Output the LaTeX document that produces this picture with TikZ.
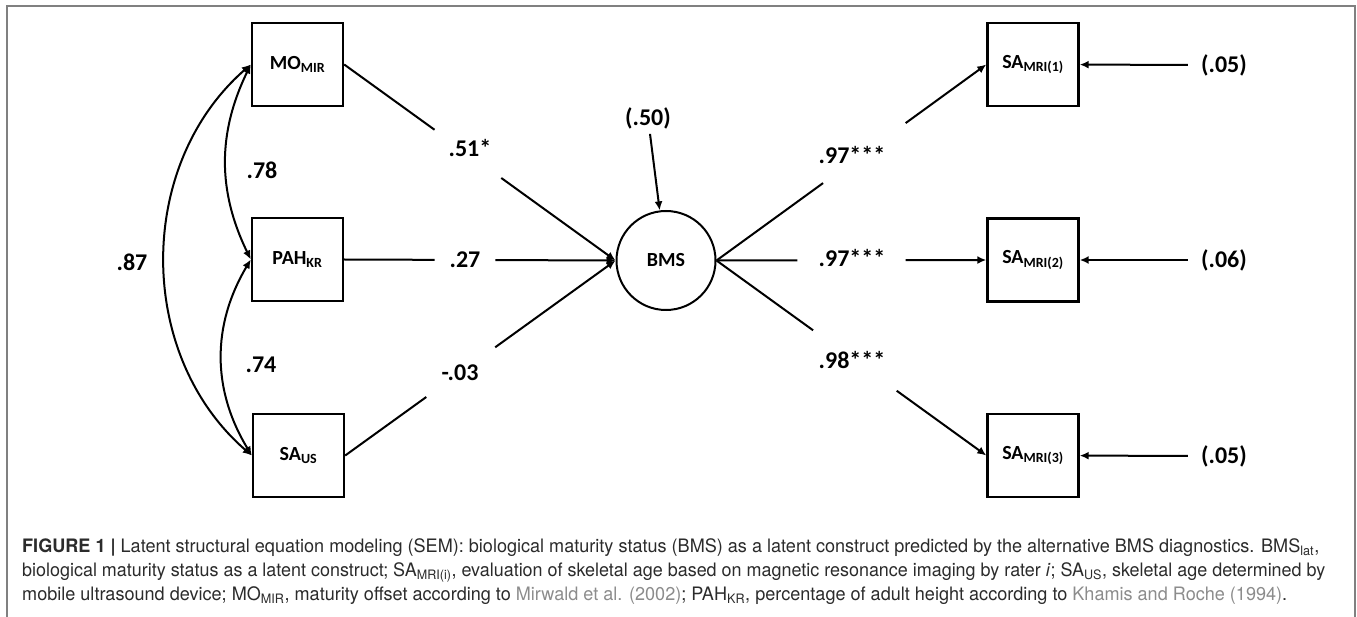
\documentclass[tikz,border=0pt]{standalone}
\usepackage{fontspec}
\setmainfont{Carlito}
\newfontfamily\capfont{TeX Gyre Heros}
\usetikzlibrary{arrows.meta,calc}
\definecolor{framegray}{HTML}{808080}
\definecolor{linkgray}{HTML}{8C8C8C}
\definecolor{captext}{HTML}{2B2B2B}
\begin{document}
\begin{tikzpicture}[x=1pt,y=1pt,
  box/.style={draw, line width=2.4pt, minimum width=91pt, minimum height=83pt, inner sep=0pt, font=\fontsize{20}{24}\selectfont\bfseries},
  latent/.style={draw, circle, line width=2pt, minimum size=99pt, inner sep=0pt, font=\fontsize{20}{24}\selectfont\bfseries},
  coef/.style={font=\fontsize{24}{28}\selectfont\bfseries, inner sep=0pt},
  plainline/.style={line width=2pt},
  arr/.style={line width=2pt, -{Latex[length=9pt,width=8pt]}},
  dbl/.style={line width=2pt, {Latex[length=9pt,width=8pt]}-{Latex[length=9pt,width=8pt]}},
  frameline/.style={draw=framegray, line width=1.5pt},
  capline/.style={anchor=base west, inner sep=0pt, text=captext, font=\capfont\fontsize{16}{24}\selectfont}
]
\useasboundingbox (0,0) rectangle (1357,-617);
\draw[frameline] (7,-617) -- (7,-6) -- (1355,-6) -- (1355,-617);

% observed and latent variables
\node[box] (MO) at (297.5,-64.5) {MO\textsubscript{MIR}};
\node[box] (PAH) at (297.5,-259.5) {PAH\textsubscript{KR}};
\node[box] (SAUS) at (298.5,-455.5) {SA\textsubscript{US}};
\node[latent] (BMS) at (666,-260.5) {BMS};
\node[box] (R1) at (1033,-64.5) {SA\textsubscript{MRI(1)}};
\node[box] (R2) at (1033,-260) {SA\textsubscript{MRI(2)}};
\node[box] (R3) at (1033,-455.5) {SA\textsubscript{MRI(3)}};

% residuals
\node[coef] (e0) at (648,-118) {(.50)};
\node[coef] (e1) at (1224,-65) {(.05)};
\node[coef] (e2) at (1224,-260) {(.06)};
\node[coef] (e3) at (1224,-456) {(.05)};

% coefficient labels
\node[coef] (c51) at (470,-148) {.51*};
\node[coef] (c27) at (465,-260) {.27};
\node[coef] (c03) at (460,-373) {-.03};
\node[coef] (c97a) at (852,-155) {.97***};
\node[coef] (c97b) at (852,-258) {.97***};
\node[coef] (c98) at (852,-360) {.98***};
\node[coef] (r78) at (262,-170) {.78};
\node[coef] (r74) at (261,-365) {.74};
\node[coef] (r87) at (132,-262) {.87};

% paths into BMS
\draw[plainline] (MO.east) -- ($(MO.east)!0.333!(BMS.west)$);
\draw[arr] ($(MO.east)!0.579!(BMS.west)$) -- (BMS.west);
\draw[plainline] (PAH.east) -- ($(PAH.east)!0.333!(BMS.west)$);
\draw[arr] ($(PAH.east)!0.557!(BMS.west)$) -- (BMS.west);
\draw[plainline] (SAUS.east) -- ($(SAUS.east)!0.30!(BMS.west)$);
\draw[arr] ($(SAUS.east)!0.555!(BMS.west)$) -- (BMS.west);

% loadings
\draw[plainline] (BMS.east) -- ($(BMS.east)!0.395!(R1.west)$);
\draw[arr] ($(BMS.east)!0.701!(R1.west)$) -- (R1.west);
\draw[plainline] (BMS.east) -- ($(BMS.east)!0.30!(R2.west)$);
\draw[arr] ($(BMS.east)!0.701!(R2.west)$) -- (R2.west);
\draw[plainline] (BMS.east) -- ($(BMS.east)!0.358!(R3.west)$);
\draw[arr] ($(BMS.east)!0.668!(R3.west)$) -- (R3.west);

% residual arrows
\draw[arr, shorten <=5pt] (e0) -- (BMS);
\draw[arr, shorten <=13pt] (e1) -- (R1);
\draw[arr, shorten <=13pt] (e2) -- (R2);
\draw[arr, shorten <=13pt] (e3) -- (R3);

% correlations
\draw[dbl] (MO.west) to[bend right=26] (PAH.west);
\draw[dbl] (PAH.west) to[bend right=31] (SAUS.west);
\draw[dbl] (MO.west) to[bend right=49] (SAUS.west);

% caption
\node[capline] (cap1) at (22,-552) {\resizebox{1297pt}{1.158\height}{\textbf{FIGURE 1 |} Latent structural equation modeling (SEM): biological maturity status (BMS) as a latent construct predicted by the alternative BMS diagnostics. BMS\textsubscript{lat},}};
\node[capline] (cap2) at (22,-576) {\resizebox{1303pt}{1.158\height}{biological maturity status as a latent construct; SA\textsubscript{MRI(i)}, evaluation of skeletal age based on magnetic resonance imaging by rater \textit{i}; SA\textsubscript{US}, skeletal age determined by}};
\node[capline] (cap3) at (22,-600) {\resizebox{1265pt}{1.158\height}{mobile ultrasound device; MO\textsubscript{MIR}, maturity offset according to \textcolor{linkgray}{Mirwald et al. (2002)}; PAH\textsubscript{KR}, percentage of adult height according to \textcolor{linkgray}{Khamis and Roche (1994)}.}};
\end{tikzpicture}
\end{document}
